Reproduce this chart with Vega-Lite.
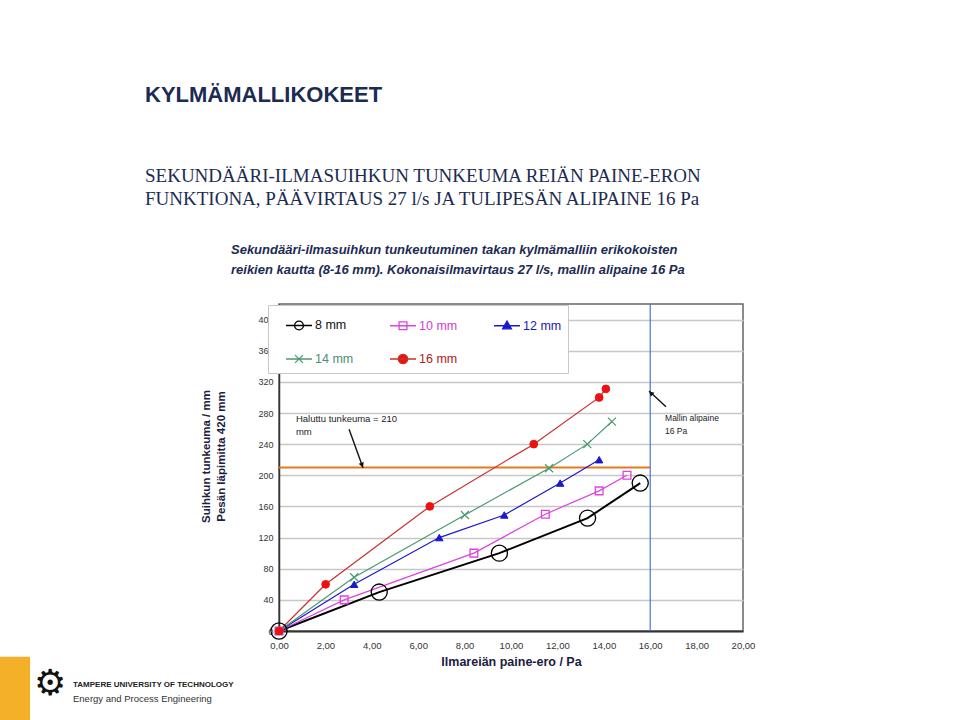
{
  "$schema": "https://vega.github.io/schema/vega-lite/v6.json",
  "width": 464,
  "height": 327,
  "autosize": {"type": "none"},
  "padding": {"left": 279, "top": 304, "right": 217, "bottom": 89},
  "background": "white",
  "title": {
    "text": "KYLMÄMALLIKOKEET",
    "subtitle": ["SEKUNDÄÄRI-ILMASUIHKUN TUNKEUMA REIÄN PAINE-ERON", "FUNKTIONA, PÄÄVIRTAUS 27 l/s JA TULIPESÄN ALIPAINE 16 Pa"],
    "anchor": "start",
    "frame": "group",
    "dx": -134,
    "offset": 34,
    "font": "Liberation Sans",
    "fontSize": 22,
    "fontWeight": "bold",
    "color": "#1c2b52",
    "subtitleFont": "Liberation Serif",
    "subtitleFontSize": 19,
    "subtitleColor": "#1c2b52",
    "subtitlePadding": 60,
    "subtitleLineHeight": 23
  },
  "datasets": {
    "series": [
      {"series": "8 mm", "x": 0, "y": 0},
      {"series": "8 mm", "x": 4.32, "y": 50},
      {"series": "8 mm", "x": 9.5, "y": 100},
      {"series": "8 mm", "x": 13.3, "y": 145},
      {"series": "8 mm", "x": 15.57, "y": 190},
      {"series": "10 mm", "x": 0, "y": 0},
      {"series": "10 mm", "x": 2.81, "y": 40},
      {"series": "10 mm", "x": 8.4, "y": 100},
      {"series": "10 mm", "x": 11.48, "y": 150},
      {"series": "10 mm", "x": 13.8, "y": 180},
      {"series": "10 mm", "x": 15.0, "y": 200},
      {"series": "12 mm", "x": 0, "y": 0},
      {"series": "12 mm", "x": 3.24, "y": 60},
      {"series": "12 mm", "x": 6.91, "y": 120},
      {"series": "12 mm", "x": 9.71, "y": 149},
      {"series": "12 mm", "x": 12.12, "y": 190},
      {"series": "12 mm", "x": 13.8, "y": 220},
      {"series": "14 mm", "x": 0, "y": 0},
      {"series": "14 mm", "x": 3.24, "y": 69},
      {"series": "14 mm", "x": 8.01, "y": 149},
      {"series": "14 mm", "x": 11.64, "y": 209},
      {"series": "14 mm", "x": 13.29, "y": 240},
      {"series": "14 mm", "x": 14.35, "y": 269},
      {"series": "16 mm", "x": 0, "y": 0},
      {"series": "16 mm", "x": 2.01, "y": 60},
      {"series": "16 mm", "x": 6.5, "y": 160},
      {"series": "16 mm", "x": 10.98, "y": 240},
      {"series": "16 mm", "x": 13.8, "y": 300},
      {"series": "16 mm", "x": 14.09, "y": 311}
    ],
    "target": [{"x": 0, "x2": 16, "y": 210}],
    "pressure": [{"x": 16, "y": 0, "y2": 420}],
    "arrows": [
      {"x": 3.02, "y": 259, "x2": 3.62, "y2": 209.7},
      {"x": 16.68, "y": 288, "x2": 15.95, "y2": 308.3}
    ],
    "head1": [{"x": 3.58, "y": 213}],
    "head2": [{"x": 16.03, "y": 305.6}],
    "note1": [{"x": 0.73, "y": 278.7, "text": "Haluttu tunkeuma = 210\nmm"}],
    "note2": [{"x": 16.64, "y": 278.7, "text": "Mallin alipaine\n 16 Pa"}],
    "heading": [{"x": -2.07, "y": 497, "text": "Sekundääri-ilmasuihkun tunkeutuminen takan kylmämalliin erikokoisten\nreikien kautta (8-16 mm). Kokonaisilmavirtaus 27 l/s, mallin alipaine 16 Pa"}],
    "bar": [{"x": -12.1, "x2": -10.73, "y": -33, "y2": -115}],
    "gear": [{"x": -9.87, "y": -68, "text": "⚙"}],
    "uni": [{"x": -8.88, "y": -69.4, "text": "TAMPERE UNIVERSITY OF TECHNOLOGY"}],
    "dept": [{"x": -8.88, "y": -87.4, "text": "Energy and Process Engineering"}]
  },
  "encoding": {
    "x": {"field": "x", "type": "quantitative", "scale": {"domain": [0, 20], "nice": false, "zero": false},
      "axis": {"values": [0, 2, 4, 6, 8, 10, 12, 14, 16, 18, 20], "labelExpr": "replace(format(datum.value, '.2f'), '.', ',')", "labelFlush": false, "labelOverlap": false, "grid": false, "ticks": false, "domainColor": "#333333", "domainWidth": 2, "labelFont": "Liberation Sans", "labelFontSize": 9.5, "labelColor": "#333333", "labelPadding": 9, "title": "Ilmareiän paine-ero / Pa", "titleFont": "Liberation Sans", "titleFontSize": 12.5, "titleFontWeight": "bold", "titleColor": "#1a2040", "titlePadding": 6}},
    "y": {"field": "y", "type": "quantitative", "scale": {"domain": [0, 420], "nice": false, "zero": false},
      "axis": {"values": [0, 40, 80, 120, 160, 200, 240, 280, 320, 360, 400], "tickCount": 11, "labelFlush": false, "labelOverlap": false, "grid": true, "gridColor": "#c8c8c8", "gridWidth": 1.5, "ticks": false, "domainColor": "#333333", "domainWidth": 1.5, "labelFont": "Liberation Sans", "labelFontSize": 9, "labelColor": "#333333", "labelPadding": 6, "title": ["Suihkun tunkeuma / mm", "Pesän läpimitta 420 mm"], "titleFont": "Liberation Sans", "titleFontSize": 11.5, "titleFontWeight": "bold", "titleColor": "#1a2040", "titleLineHeight": 15, "titlePadding": 31, "titleY": 152}}
  },
  "layer": [
    {
      "data": {"name": "target"},
      "mark": {"type": "rule", "color": "#e8781e", "strokeWidth": 2},
      "encoding": {"x2": {"field": "x2"}}
    },
    {
      "data": {"name": "pressure"},
      "mark": {"type": "rule", "color": "#4a72d8", "strokeWidth": 1.2},
      "encoding": {"y2": {"field": "y2"}}
    },
    {
      "data": {"name": "series"},
      "mark": {"type": "line"},
      "encoding": {
        "stroke": {"field": "series", "type": "nominal",
          "scale": {"domain": ["8 mm", "10 mm", "12 mm", "14 mm", "16 mm"], "range": ["#000000", "#dd44dd", "#1a1acc", "#4a9a72", "#c8302a"]},
          "legend": {
            "orient": "none", "legendX": -11, "legendY": 1, "direction": "horizontal", "columns": 3, "title": null,
            "fillColor": "white", "strokeColor": "#c8c8c8", "padding": 6, "rowPadding": 12, "columnPadding": 24,
            "labelFont": "Liberation Sans", "labelFontSize": 12.5, "labelOffset": 2, "symbolSize": 676, "symbolOffset": 11, "symbolStrokeWidth": 1.3,
            "encode": {
              "symbols": {"update": {
                "shape": {"signal": "datum.value === '8 mm' ? 'M-1,0H1M-0.34,0A0.34,0.34 0 1,0 0.34,0A0.34,0.34 0 1,0 -0.34,0' : datum.value === '10 mm' ? 'M-1,0H1M-0.3,-0.3H0.3V0.3H-0.3Z' : datum.value === '12 mm' ? 'M-1,0H1M0,-0.36L0.34,0.24H-0.34Z' : datum.value === '14 mm' ? 'M-1,0H1M-0.3,-0.3L0.3,0.3M-0.3,0.3L0.3,-0.3' : 'M-1,0H1M-0.36,0A0.36,0.36 0 1,0 0.36,0A0.36,0.36 0 1,0 -0.36,0'"},
                "fill": {"signal": "datum.value === '12 mm' ? '#1a1acc' : datum.value === '16 mm' ? '#ee1111' : 'transparent'"},
                "stroke": {"signal": "datum.value === '8 mm' ? '#000000' : datum.value === '10 mm' ? '#dd44dd' : datum.value === '12 mm' ? '#1a1acc' : datum.value === '14 mm' ? '#4a9a72' : '#c8302a'"},
                "strokeWidth": {"value": 1.3},
                "opacity": {"value": 1},
                "size": {"value": 676}
              }},
              "labels": {"update": {
                "fill": {"signal": "datum.value === '8 mm' ? '#111111' : datum.value === '10 mm' ? '#d040d0' : datum.value === '12 mm' ? '#2020b0' : datum.value === '14 mm' ? '#4a9070' : '#b02020'"}
              }}
            }
          }},
        "strokeWidth": {"condition": {"test": "datum.series === '8 mm'", "value": 2}, "value": 1.2}
      }
    },
    {
      "data": {"name": "series"},
      "transform": [{"filter": "datum.series === '8 mm'"}],
      "mark": {"type": "point", "shape": "circle", "size": 260, "stroke": "#000000", "strokeWidth": 1.3, "fill": "transparent", "opacity": 1}
    },
    {
      "data": {"name": "series"},
      "transform": [{"filter": "datum.series === '10 mm'"}],
      "mark": {"type": "point", "shape": "square", "size": 60, "stroke": "#dd44dd", "strokeWidth": 1.3, "fill": "transparent", "opacity": 1}
    },
    {
      "data": {"name": "series"},
      "transform": [{"filter": "datum.series === '12 mm'"}],
      "mark": {"type": "point", "shape": "triangle-up", "size": 55, "stroke": "#1a1acc", "strokeWidth": 1, "fill": "#1a1acc", "filled": true, "opacity": 1}
    },
    {
      "data": {"name": "series"},
      "transform": [{"filter": "datum.series === '14 mm'"}],
      "mark": {"type": "point", "shape": "M-1,-1L1,1M-1,1L1,-1", "size": 64, "stroke": "#4a9a72", "strokeWidth": 1.2, "fill": "transparent", "opacity": 1}
    },
    {
      "data": {"name": "series"},
      "transform": [{"filter": "datum.series === '16 mm'"}],
      "mark": {"type": "point", "shape": "circle", "size": 60, "stroke": "#ee1111", "strokeWidth": 1, "fill": "#ee1111", "filled": true, "opacity": 1}
    },
    {
      "data": {"name": "arrows"},
      "mark": {"type": "rule", "color": "#111111", "strokeWidth": 1.4},
      "encoding": {"x2": {"field": "x2"}, "y2": {"field": "y2"}}
    },
    {
      "data": {"name": "head1"},
      "mark": {"type": "point", "shape": "triangle-up", "size": 30, "angle": 160, "filled": true, "color": "#111111", "opacity": 1}
    },
    {
      "data": {"name": "head2"},
      "mark": {"type": "point", "shape": "triangle-up", "size": 30, "angle": 313, "filled": true, "color": "#111111", "opacity": 1}
    },
    {
      "data": {"name": "note1"},
      "mark": {"type": "text", "align": "left", "baseline": "top", "font": "Liberation Sans", "fontSize": 9.5, "lineBreak": "\n", "lineHeight": 13, "color": "#222222"},
      "encoding": {"text": {"field": "text"}}
    },
    {
      "data": {"name": "note2"},
      "mark": {"type": "text", "align": "left", "baseline": "top", "font": "Liberation Sans", "fontSize": 8.5, "lineBreak": "\n", "lineHeight": 13, "color": "#222222"},
      "encoding": {"text": {"field": "text"}}
    },
    {
      "data": {"name": "heading"},
      "mark": {"type": "text", "align": "left", "baseline": "top", "font": "Liberation Sans", "fontSize": 13, "fontWeight": "bold", "fontStyle": "italic", "lineBreak": "\n", "lineHeight": 20, "color": "#1c2b52"},
      "encoding": {"text": {"field": "text"}}
    },
    {
      "data": {"name": "bar"},
      "mark": {"type": "rect", "color": "#f5b02a"},
      "encoding": {"x2": {"field": "x2"}, "y2": {"field": "y2"}}
    },
    {
      "data": {"name": "gear"},
      "mark": {"type": "text", "align": "center", "baseline": "middle", "font": "DejaVu Sans", "fontSize": 36, "color": "#111111"},
      "encoding": {"text": {"field": "text"}}
    },
    {
      "data": {"name": "uni"},
      "mark": {"type": "text", "align": "left", "baseline": "middle", "font": "Liberation Sans", "fontSize": 8, "fontWeight": "bold", "color": "#222222"},
      "encoding": {"text": {"field": "text"}}
    },
    {
      "data": {"name": "dept"},
      "mark": {"type": "text", "align": "left", "baseline": "middle", "font": "Liberation Sans", "fontSize": 9.5, "color": "#333333"},
      "encoding": {"text": {"field": "text"}}
    }
  ],
  "config": {
    "view": {"stroke": "#666666", "strokeWidth": 1.5},
    "font": "Liberation Sans"
  }
}
